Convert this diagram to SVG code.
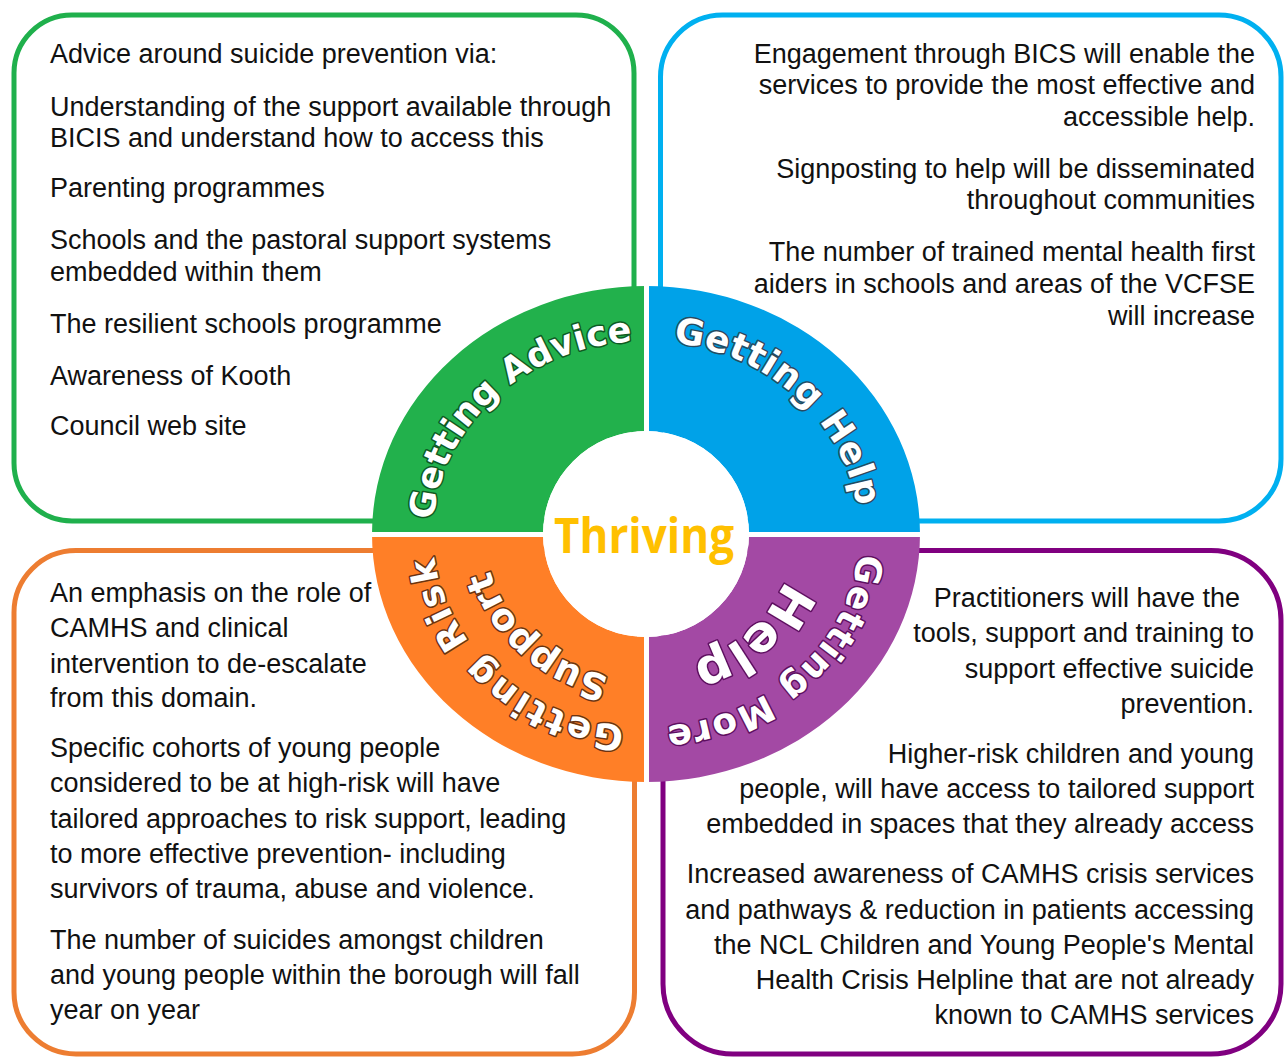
<svg xmlns="http://www.w3.org/2000/svg" xmlns:xlink="http://www.w3.org/1999/xlink" width="1285" height="1059" viewBox="0 0 1285 1059">
<style>
.box{fill:#fff;stroke-width:5}
.t{font-family:"Liberation Sans",Arial,sans-serif;font-size:27px;fill:#111}
.r{text-anchor:end}
.ring{font-family:"DejaVu Sans",Verdana,sans-serif;font-weight:bold;fill:#fff;stroke-width:3;paint-order:stroke;stroke-linejoin:round}
.gap{stroke:#fff;stroke-width:5}
</style>
<defs>
<path id="pA" d="M 433 534 A 213 193 0 0 1 646 341"/>
<path id="pH" d="M 646 341 A 213 193 0 0 1 859 534"/>
<path id="pM" d="M 859 534 A 213 193 0 0 1 646 727"/>
<path id="pR" d="M 646 727 A 213 193 0 0 1 433 534"/>
<path id="pHi" d="M 794 534 A 148 134 0 0 1 646 668"/>
<path id="pSi" d="M 646 680 A 161 146 0 0 1 485 534"/>
</defs>

<g id="box-advice">
<rect class="box" x="14" y="15" width="620" height="506" rx="58" stroke="#1FB04C"/>
<text class="t" x="50" y="63">Advice around suicide prevention via:</text>
<text class="t" x="50" y="115.5">Understanding of the support available through</text>
<text class="t" x="50" y="146.5">BICIS and understand how to access this</text>
<text class="t" x="50" y="196.5">Parenting programmes</text>
<text class="t" x="50" y="249">Schools and the pastoral support systems</text>
<text class="t" x="50" y="281">embedded within them</text>
<text class="t" x="50" y="333">The resilient schools programme</text>
<text class="t" x="50" y="385">Awareness of Kooth</text>
<text class="t" x="50" y="435">Council web site</text>
</g>

<g id="box-help">
<rect class="box" x="660.5" y="15" width="620.5" height="506" rx="62" stroke="#00B0F0"/>
<text class="t r" x="1255" y="63">Engagement through BICS will enable the</text>
<text class="t r" x="1255" y="94">services to provide the most effective and</text>
<text class="t r" x="1255" y="126">accessible help.</text>
<text class="t r" x="1255" y="177.5">Signposting to help will be disseminated</text>
<text class="t r" x="1255" y="209">throughout communities</text>
<text class="t r" x="1255" y="261">The number of trained mental health first</text>
<text class="t r" x="1255" y="293">aiders in schools and areas of the VCFSE</text>
<text class="t r" x="1255" y="325">will increase</text>
</g>

<g id="box-risk">
<rect class="box" x="14" y="550.5" width="620.5" height="503.5" rx="62" stroke="#ED7D31"/>
<text class="t" x="50" y="602">An emphasis on the role of</text>
<text class="t" x="50" y="637">CAMHS and clinical</text>
<text class="t" x="50" y="672.5">intervention to de-escalate</text>
<text class="t" x="50" y="707">from this domain.</text>
<text class="t" x="50" y="757">Specific cohorts of young people</text>
<text class="t" x="50" y="792">considered to be at high-risk will have</text>
<text class="t" x="50" y="827.5">tailored approaches to risk support, leading</text>
<text class="t" x="50" y="863">to more effective prevention- including</text>
<text class="t" x="50" y="898">survivors of trauma, abuse and violence.</text>
<text class="t" x="50" y="948.5">The number of suicides amongst children</text>
<text class="t" x="50" y="984">and young people within the borough will fall</text>
<text class="t" x="50" y="1019">year on year</text>
</g>

<g id="box-more">
<rect class="box" x="663" y="550.5" width="618" height="503.5" rx="70" stroke="#800080" stroke-width="5.5"/>
<text class="t r" x="1240" y="607">Practitioners will have the</text>
<text class="t r" x="1254" y="642">tools, support and training to</text>
<text class="t r" x="1254" y="677.5">support effective suicide</text>
<text class="t r" x="1254" y="713">prevention.</text>
<text class="t r" x="1254" y="762.5">Higher-risk children and young</text>
<text class="t r" x="1254" y="798">people, will have access to tailored support</text>
<text class="t r" x="1254" y="833">embedded in spaces that they already access</text>
<text class="t r" x="1254" y="883">Increased awareness of CAMHS crisis services</text>
<text class="t r" x="1254" y="918.5">and pathways &amp; reduction in patients accessing</text>
<text class="t r" x="1254" y="953.5">the NCL Children and Young People's Mental</text>
<text class="t r" x="1254" y="989">Health Crisis Helpline that are not already</text>
<text class="t r" x="1254" y="1024">known to CAMHS services</text>
</g>

<g id="ring">
<path id="q-advice" d="M 372 534 A 274 248 0 0 1 646 286 L 646 431 A 103 103 0 0 0 543 534 Z" fill="#22B14C"/>
<path id="q-help" d="M 646 286 A 274 248 0 0 1 920 534 L 749 534 A 103 103 0 0 0 646 431 Z" fill="#00A2E8"/>
<path id="q-more" d="M 920 534 A 274 248 0 0 1 646 782 L 646 637 A 103 103 0 0 0 749 534 Z" fill="#A349A4"/>
<path id="q-risk" d="M 646 782 A 274 248 0 0 1 372 534 L 543 534 A 103 103 0 0 0 646 637 Z" fill="#FF7F27"/>
<line class="gap" x1="646.5" y1="283" x2="646.5" y2="786"/>
<line class="gap" x1="368" y1="534.5" x2="924" y2="534.5"/>
<circle cx="646" cy="534" r="103" fill="#fff"/>
</g>

<g id="ring-labels">
<text class="ring" font-size="35" stroke="#0E5A22"><textPath xlink:href="#pA" href="#pA" startOffset="50%" text-anchor="middle">Getting Advice</textPath></text>
<text class="ring" font-size="36" letter-spacing="0.6" stroke="#284A60"><textPath xlink:href="#pH" href="#pH" startOffset="50%" text-anchor="middle">Getting Help</textPath></text>
<text class="ring" font-size="36" letter-spacing="1.1" stroke="#5E0F60"><textPath xlink:href="#pM" href="#pM" startOffset="50%" text-anchor="middle">Getting More</textPath></text>
<text class="ring" font-size="36" letter-spacing="2.2" stroke="#6A3312"><textPath xlink:href="#pR" href="#pR" startOffset="50%" text-anchor="middle">Getting Risk</textPath></text>
<text class="ring" font-size="50" stroke="#5E0F60"><textPath xlink:href="#pHi" href="#pHi" startOffset="50%" text-anchor="middle">Help</textPath></text>
<text class="ring" font-size="37" stroke="#6A3312"><textPath xlink:href="#pSi" href="#pSi" startOffset="50%" text-anchor="middle">Support</textPath></text>
</g>

<g id="center">
<text x="554" y="553" font-family="'Open Sans','Noto Sans',sans-serif" font-weight="bold" font-size="48" fill="#FFC000" textLength="180" lengthAdjust="spacingAndGlyphs">Thriving</text>
</g>
</svg>
